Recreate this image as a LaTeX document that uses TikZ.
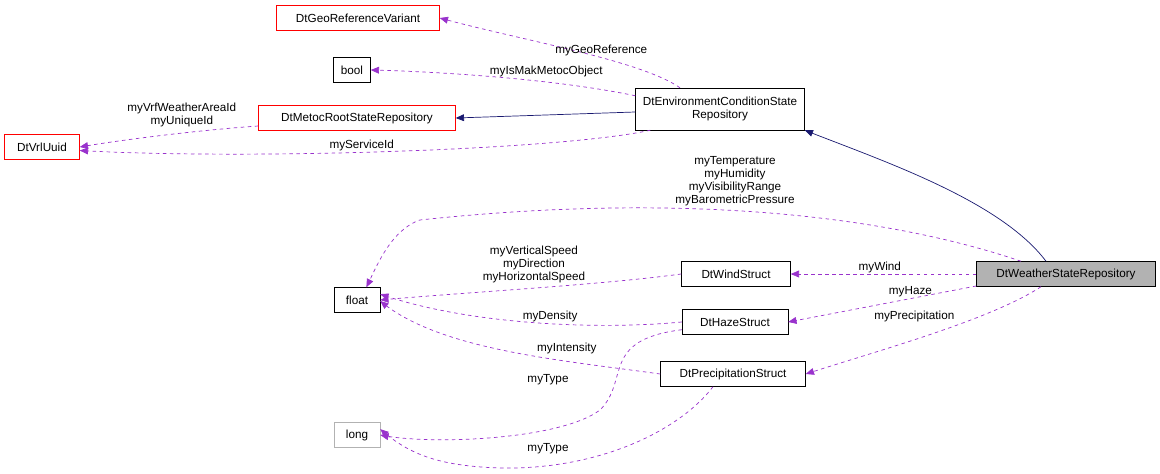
\documentclass[tikz,border=0pt]{standalone}
\usepackage{fontspec}
\setmainfont{Liberation Sans}
\usetikzlibrary{arrows}
\usetikzlibrary{positioning}
\definecolor{edgepurple}{RGB}{153,50,204}
\definecolor{edgenavy}{RGB}{25,25,112}
\begin{document}
\begin{tikzpicture}[x=0.3mm,y=-0.3mm,>=triangle 45,font=\fontsize{10}{11}\selectfont]
\tikzstyle{cls}=[draw, rectangle, inner sep=0pt, minimum height=7.5mm, align=center]
\tikzstyle{redcls}=[cls, draw=red]
\tikzstyle{use}=[->, dashed, edgepurple, semithick]
\tikzstyle{inh}=[->, edgenavy, semithick]
\tikzstyle{lbl}=[text=black, align=center, inner sep=1pt]
\useasboundingbox (0,0) rectangle (1160,474);
\node[redcls, minimum width=163*0.3mm] (geo) at (358,18) {DtGeoReferenceVariant};
\node[cls, minimum width=37*0.3mm] (bool) at (352,70) {bool};
\node[redcls, minimum width=197*0.3mm] (root) at (357,118) {DtMetocRootStateRepository};
\node[redcls, minimum width=75*0.3mm] (uuid) at (42,147) {DtVrlUuid};
\node[cls, minimum width=169*0.3mm, minimum height=12.6mm] (env) at (720,109) {DtEnvironmentConditionState\\Repository};
\node[cls, fill=gray!60, minimum width=179*0.3mm] (weather) at (1066,274) {DtWeatherStateRepository};
\node[cls, minimum width=46*0.3mm] (float) at (357,300) {float};
\node[cls, minimum width=109*0.3mm] (wind) at (736,274) {DtWindStruct};
\node[cls, minimum width=106*0.3mm] (haze) at (735,322) {DtHazeStruct};
\node[cls, minimum width=145*0.3mm] (precip) at (733,374) {DtPrecipitationStruct};
\node[cls, draw=gray!60, minimum width=46*0.3mm] (long) at (357,435) {long};
% environment condition repository
\draw[use] (env.north) ++(-40,0) .. controls (640,60) and (520,40) .. (geo.east)
  node[lbl, pos=0.4, above] {myGeoReference};
\draw[use] (env.north west) ++(0,8) .. controls (560,80) and (450,72) .. (bool.east)
  node[lbl, pos=0.35, above=3pt] {myIsMakMetocObject};
\draw[inh] (env.west) ++(0,3) -- (root.east);
\draw[use] (root.west) ++(0,8) .. controls (200,130) and (120,140) .. (uuid.east)
  node[lbl, pos=0.4, above=4pt] {myVrfWeatherAreaId\\myUniqueId};
\draw[use] (env.south west) ++(15,0) .. controls (560,150) and (250,160) .. ([yshift=-3]uuid.east)
  node[lbl, pos=0.55, above] {myServiceId};
% weather repository
\draw[inh] (weather.north) ++(-20,0) .. controls (1000,200) and (880,160) .. (env.south east);
\draw[use] (weather.north) ++(-45,0) .. controls (900,220) and (700,190) .. (420,220)
  .. controls (390,230) and (375,270) .. ([xshift=8]float.north);
\node[lbl] (tlbl) at (735,181) {myTemperature\\myHumidity\\myVisibilityRange\\myBarometricPressure};
\draw[use] (weather.west) -- (wind.east) node[lbl, pos=0.52, above] {myWind};
\draw[use] (weather.west) ++(0,12) -- (haze.east) node[lbl, pos=0.35, above] {myHaze};
\draw[use] (weather.south) ++(-25,0) .. controls (990,320) and (880,350) .. (precip.east)
  node[lbl, pos=0.4, above left=2pt] {myPrecipitation};
% structs
\draw[use] (wind.west) .. controls (600,285) and (470,292) .. (float.east)
  node[lbl, pos=0.5, above=3pt] {myVerticalSpeed\\myDirection\\myHorizontalSpeed};
\draw[use] (haze.west) .. controls (600,330) and (470,325) .. ([yshift=5]float.east)
  node[lbl, pos=0.45, above] {myDensity};
\draw[use] (precip.west) .. controls (560,360) and (440,350) .. ([yshift=10]float.south east)
  node[lbl, pos=0.3, above=5pt] {myIntensity};
\draw[use] (haze.south west) ++(0,-5) .. controls (600,340) and (630,380) .. (600,410)
  .. controls (560,440) and (430,445) .. (long.east);
\node[lbl] (tlbl2) at (548,380) {myType};
\draw[use] (precip.south) ++(-20,0) .. controls (680,430) and (600,470) .. (500,468)
  .. controls (440,466) and (410,455) .. ([yshift=5]long.east);
\node[lbl] (tlbl3) at (548,449) {myType};
\end{tikzpicture}
\end{document}
